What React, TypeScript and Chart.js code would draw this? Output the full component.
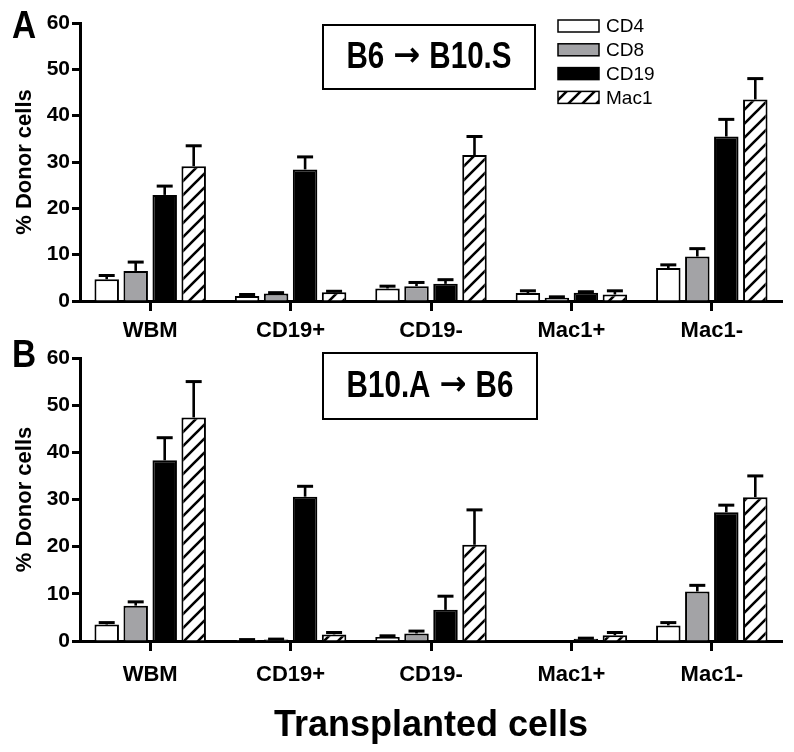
import React, { useEffect, useRef } from 'react';
import { Chart, registerables } from 'chart.js';

Chart.register(...registerables);

// ---------- data ----------
const categories = ['WBM', 'CD19+', 'CD19-', 'Mac1+', 'Mac1-'];
const seriesLabels = ['CD4', 'CD8', 'CD19', 'Mac1'];
const yMin = 0;
const yMax = 60;
const yStep = 10;

// Panel A: B6 -> B10.S
const panelATitle = ['B6', '\u2192', 'B10.S'];
const aCD4 = [4.7, 1.1, 2.7, 1.7, 7.1];
const aCD8 = [6.5, 1.6, 3.2, 0.7, 9.6];
const aCD19 = [22.9, 28.4, 3.7, 1.8, 35.5];
const aMac1 = [29.1, 1.9, 31.5, 1.4, 43.5];
const aCD4Err = [0.8, 0.3, 0.5, 0.5, 0.7];
const aCD8Err = [1.9, 0.2, 0.8, 0.2, 1.7];
const aCD19Err = [1.9, 2.7, 0.9, 0.2, 3.7];
const aMac1Err = [4.4, 0.2, 4.0, 0.8, 4.5];

// Panel B: B10.A -> B6
const panelBTitle = ['B10.A', '\u2192', 'B6'];
const bCD4 = [3.5, 0.2, 0.85, 0, 3.3];
const bCD8 = [7.5, 0.3, 1.6, 0, 10.5];
const bCD19 = [38.3, 30.6, 6.6, 0.5, 27.3];
const bMac1 = [47.4, 1.4, 20.4, 1.2, 30.5];
const bCD4Err = [0.4, 0.1, 0.25, 0, 0.6];
const bCD8Err = [0.8, 0.1, 0.5, 0, 1.3];
const bCD19Err = [4.8, 2.2, 2.9, 0.1, 1.5];
const bMac1Err = [7.6, 0.4, 7.4, 0.6, 4.5];

const yTitle = '% Donor cells';
const xTitle = 'Transplanted cells';

// ---------- style ----------
const FONT = "'Liberation Sans', Arial, Helvetica, sans-serif";
const ARROW_FONT = "'DejaVu Sans', sans-serif";
const GRAY = '#a3a3a6';

function makeHatch(): CanvasPattern | string {
  const s = 14;
  const c = document.createElement('canvas');
  c.width = s;
  c.height = s;
  const g = c.getContext('2d');
  if (!g) return '#fff';
  g.fillStyle = '#fff';
  g.fillRect(0, 0, s, s);
  g.strokeStyle = '#000';
  g.lineWidth = 2.6;
  g.beginPath();
  g.moveTo(-2, s + 2);
  g.lineTo(s + 2, -2);
  g.moveTo(-s / 2 - 2, s / 2 + 2);
  g.lineTo(s / 2 + 2, -s / 2 - 2);
  g.moveTo(s / 2 - 2, s * 1.5 + 2);
  g.lineTo(s * 1.5 + 2, s / 2 - 2);
  g.stroke();
  const p = g.createPattern(c, 'repeat');
  return p || '#fff';
}

function scaledText(
  ctx: CanvasRenderingContext2D,
  text: string,
  x: number,
  y: number,
  font: string,
  sx: number,
  align: CanvasTextAlign
) {
  ctx.save();
  ctx.font = font;
  ctx.fillStyle = '#000';
  ctx.textBaseline = 'middle';
  ctx.textAlign = align;
  ctx.translate(x, y);
  ctx.scale(sx, 1);
  ctx.fillText(text, 0, 0);
  ctx.restore();
}

// draws "left → right" centred at (cx, cy), text parts horizontally condensed
function titleText(ctx: CanvasRenderingContext2D, parts: string[], cx: number, cy: number) {
  const sx = 0.8;
  const tFont = `bold 37px ${FONT}`;
  const aFont = `bold 34px ${ARROW_FONT}`;
  ctx.save();
  ctx.font = tFont;
  const wl = ctx.measureText(parts[0]).width * sx;
  const wr = ctx.measureText(parts[2]).width * sx;
  const gap = 9;
  ctx.font = aFont;
  const wa = ctx.measureText(parts[1]).width * 0.95;
  ctx.restore();
  const total = wl + gap + wa + gap + wr;
  let x = cx - total / 2;
  scaledText(ctx, parts[0], x, cy, tFont, sx, 'left');
  x += wl + gap;
  scaledText(ctx, parts[1], x, cy - 1, aFont, 0.95, 'left');
  x += wa + gap;
  scaledText(ctx, parts[2], x, cy, tFont, sx, 'left');
}

const errorBarPlugin = {
  id: 'errorBars',
  afterDatasetsDraw(chart: any) {
    const ctx = chart.ctx as CanvasRenderingContext2D;
    const y = chart.scales.y;
    chart.data.datasets.forEach((ds: any, i: number) => {
      const meta = chart.getDatasetMeta(i);
      meta.data.forEach((bar: any, j: number) => {
        const err = ds.errors ? ds.errors[j] : 0;
        if (!err) return;
        const v = ds.data[j];
        const y0 = y.getPixelForValue(v);
        const y1 = y.getPixelForValue(v + err);
        ctx.save();
        ctx.strokeStyle = '#000';
        ctx.lineCap = 'butt';
        ctx.lineWidth = 2.6;
        ctx.beginPath();
        ctx.moveTo(bar.x, y0);
        ctx.lineTo(bar.x, y1);
        ctx.stroke();
        ctx.lineWidth = 3;
        ctx.beginPath();
        ctx.moveTo(bar.x - 8, y1);
        ctx.lineTo(bar.x + 8, y1);
        ctx.stroke();
        ctx.restore();
      });
    });
  },
};

const decorPlugin = {
  id: 'decor',
  afterDraw(chart: any, _args: any, opts: any) {
    const ctx = chart.ctx as CanvasRenderingContext2D;
    // panel letter
    scaledText(ctx, opts.letter, opts.letterX, opts.letterY, `bold 38px ${FONT}`, 0.88, 'left');
    // title box
    const b = opts.box;
    ctx.save();
    ctx.fillStyle = '#fff';
    ctx.fillRect(b.x, b.y, b.w, b.h);
    ctx.strokeStyle = '#000';
    ctx.lineWidth = 2;
    ctx.strokeRect(b.x, b.y, b.w, b.h);
    ctx.restore();
    titleText(ctx, opts.boxText, b.x + b.w / 2, b.y + b.h / 2 + 1);
    // legend
    if (opts.legend) {
      const L = opts.legend;
      chart.data.datasets.forEach((ds: any, i: number) => {
        const cy = L.y + i * L.gap;
        ctx.save();
        ctx.fillStyle = ds.backgroundColor;
        ctx.fillRect(L.x, cy - L.bh / 2, L.bw, L.bh);
        ctx.strokeStyle = '#000';
        ctx.lineWidth = 1.5;
        ctx.strokeRect(L.x, cy - L.bh / 2, L.bw, L.bh);
        ctx.restore();
        scaledText(ctx, ds.label, L.x + L.bw + 7, cy + 1, `19px ${FONT}`, 1, 'left');
      });
    }
  },
};

function buildConfig(p: any, hatch: any) {
  const colors = ['#ffffff', GRAY, '#000000', hatch];
  const values = [p.cd4, p.cd8, p.cd19, p.mac1];
  const errs = [p.cd4Err, p.cd8Err, p.cd19Err, p.mac1Err];
  return {
    type: 'bar' as const,
    data: {
      labels: categories,
      datasets: seriesLabels.map((label, i) => ({
        label,
        data: values[i],
        errors: errs[i],
        backgroundColor: colors[i],
        borderColor: '#000',
        borderWidth: 2,
        categoryPercentage: 0.826,
        barPercentage: 0.845,
      })),
    },
    options: {
      responsive: false,
      animation: false,
      events: [],
      layout: { padding: { top: p.padTop, right: 12, left: 0, bottom: 0 } },
      plugins: {
        legend: { display: false },
        tooltip: { enabled: false },
        decor: {
          letter: p.letter,
          letterX: 12,
          letterY: p.letterY,
          boxText: p.boxText,
          box: p.box,
          legend: p.legend,
        },
      },
      scales: {
        x: {
          type: 'category',
          offset: true,
          grid: {
            display: true,
            drawOnChartArea: false,
            drawTicks: true,
            offset: false,
            tickLength: 10,
            tickWidth: 3,
            tickColor: '#000',
          },
          border: { display: true, color: '#000', width: 3 },
          ticks: {
            color: '#000',
            font: { family: FONT, size: 22, weight: 'bold' },
            padding: p.xPad,
            maxRotation: 0,
            autoSkip: false,
          },
          title: p.showXTitle
            ? {
                display: true,
                text: xTitle,
                color: '#000',
                font: { family: FONT, size: 36, weight: 'bold' },
                padding: { top: 0, bottom: 4 },
              }
            : { display: false },
          afterFit: (s: any) => {
            s.height = p.xAxisHeight;
          },
        },
        y: {
          min: yMin,
          max: yMax,
          ticks: {
            stepSize: yStep,
            color: '#000',
            font: { family: FONT, size: 21, weight: 'bold' },
            padding: 2,
          },
          grid: {
            drawOnChartArea: false,
            drawTicks: true,
            tickLength: 8,
            tickWidth: 3,
            tickColor: '#000',
          },
          border: { display: true, color: '#000', width: 3 },
          title: {
            display: true,
            text: yTitle,
            color: '#000',
            font: { family: FONT, size: 22, weight: 'bold' },
            padding: { top: 12, bottom: 0 },
          },
          afterFit: (s: any) => {
            s.width = 80;
          },
        },
      },
    },
    plugins: [errorBarPlugin, decorPlugin],
  };
}

export default function App() {
  const refA = useRef<HTMLCanvasElement | null>(null);
  const refB = useRef<HTMLCanvasElement | null>(null);

  useEffect(() => {
    const hatch = makeHatch();
    const cfgA = buildConfig(
      {
        cd4: aCD4, cd8: aCD8, cd19: aCD19, mac1: aMac1,
        cd4Err: aCD4Err, cd8Err: aCD8Err, cd19Err: aCD19Err, mac1Err: aMac1Err,
        padTop: 23, xAxisHeight: 44, xPad: 7, showXTitle: false,
        letter: 'A', letterY: 28,
        boxText: panelATitle,
        box: { x: 323, y: 25, w: 212, h: 64 },
        legend: { x: 558, y: 26, gap: 23.8, bw: 41, bh: 12 },
      },
      hatch
    );
    const cfgB = buildConfig(
      {
        cd4: bCD4, cd8: bCD8, cd19: bCD19, mac1: bMac1,
        cd4Err: bCD4Err, cd8Err: bCD8Err, cd19Err: bCD19Err, mac1Err: bMac1Err,
        padTop: 23, xAxisHeight: 111, xPad: 11, showXTitle: true,
        letter: 'B', letterY: 22,
        boxText: panelBTitle,
        box: { x: 323, y: 18, w: 214, h: 66 },
        legend: null,
      },
      hatch
    );
    const chartA = new Chart(refA.current as HTMLCanvasElement, cfgA as any);
    const chartB = new Chart(refB.current as HTMLCanvasElement, cfgB as any);
    return () => {
      chartA.destroy();
      chartB.destroy();
    };
  }, []);

  return (
    <div style={{ position: 'absolute', left: 0, top: 0, width: 794, height: 752, background: '#fff' }}>
      <canvas
        ref={refA}
        width={794}
        height={345}
        style={{ position: 'absolute', left: 0, top: 0, width: 794, height: 345 }}
      />
      <canvas
        ref={refB}
        width={794}
        height={417}
        style={{ position: 'absolute', left: 0, top: 335, width: 794, height: 417 }}
      />
    </div>
  );
}
